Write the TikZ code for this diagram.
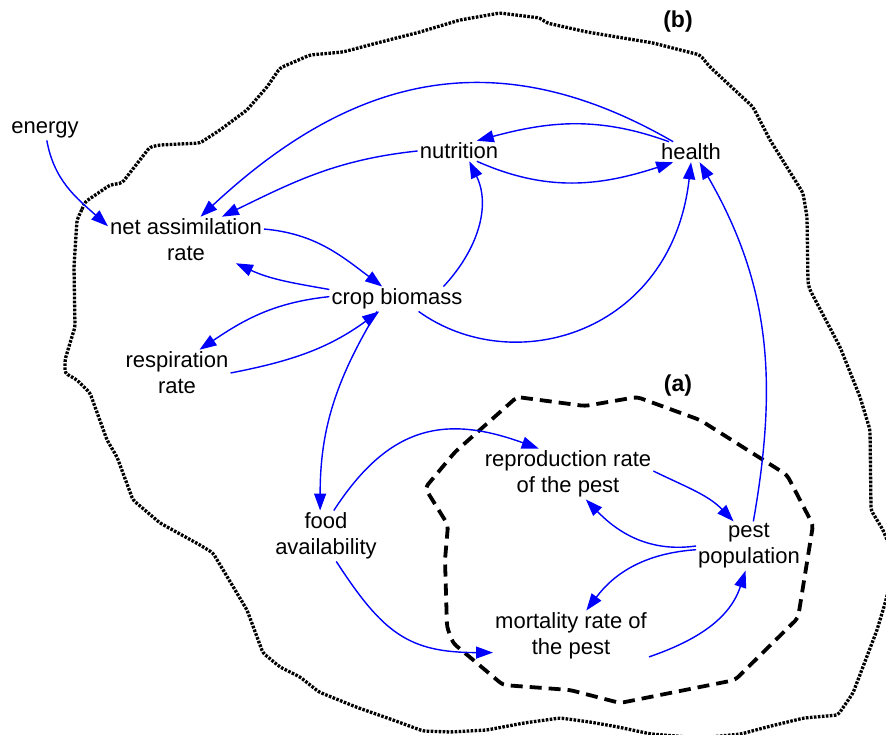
\documentclass[tikz,border=0pt]{standalone}
\usepackage{fontspec}
\setmainfont{Liberation Sans}
\usetikzlibrary{arrows.meta}

\begin{document}
\begin{tikzpicture}[x=1pt, y=1pt, >={Triangle[length=17pt, width=12pt]},
    var/.style={align=center, inner sep=2pt, font=\fontsize{22}{26}\selectfont},
    tag/.style={inner sep=0pt, font=\fontsize{23}{26}\selectfont\bfseries},
    link/.style={->, draw=blue, line width=1.4pt},
    outer/.style={line width=3.3pt, dash pattern=on 2.6pt off 1.4pt, rounded corners=3pt},
    inner/.style={line width=3.8pt, dash pattern=on 12pt off 7pt, rounded corners=4pt}]
    \useasboundingbox (0,0) rectangle (886,734);

    % system boundaries
    \draw[outer] (83,527) -- (77,514) -- (74,467) -- (75,407) -- (70,391) -- (65,374)
        -- (65,361) -- (77,354) -- (90,341) -- (107,294) -- (117,277) -- (133,234)
        -- (160,211) -- (200,189) -- (213,181) -- (247,124) -- (263,81) -- (280,67)
        -- (300,57) -- (319,42) -- (356,27) -- (393,14) -- (423,3) -- (450,2) -- (487,4)
        -- (524,11) -- (560,16) -- (590,12) -- (618,7) -- (651,0) -- (700,-4) -- (741,0)
        -- (767,7) -- (804,16) -- (838,19) -- (853,41) -- (877,104) -- (886,134)
        -- (895,174) -- (883,204) -- (871,224) -- (870,304) -- (860,337) -- (840,387)
        -- (810,444) -- (808,451) -- (807,517) -- (803,541) -- (770,594) -- (753,627)
        -- (710,667) -- (700,679) -- (653,691) -- (587,702) -- (547,711) -- (540,716)
        -- (500,721) -- (460,714) -- (420,702) -- (377,691) -- (343,682) -- (310,679)
        -- (280,666) -- (267,647) -- (247,624) -- (220,604) -- (200,591) -- (160,589)
        -- (150,587) -- (122,551) -- (110,549) -- (85,532) -- cycle;
    \draw[inner] (517,337) -- (585,328) -- (637,337) -- (700,314) -- (787,259)
        -- (813,209) -- (798,116) -- (735,54) -- (620,31) -- (570,44) -- (503,49)
        -- (453,91) -- (447,107) -- (445,174) -- (448,209) -- (425,246) -- (455,282)
        -- cycle;
    \node[tag] (labb) at (678,712) {(b)};
    \node[tag] (laba) at (678,348) {(a)};

    % variables
    \node[var] (energy) at (45,604) {energy};
    \node[var] (nar) at (186,494) {net assimilation\\rate};
    \node[var] (nutr) at (459,583) {nutrition};
    \node[var] (health) at (691,582) {health};
    \node[var] (crop) at (397,435) {crop biomass};
    \node[var] (resp) at (177,361) {respiration\\rate};
    \node[var] (food) at (326,198) {food\\availability};
    \node[var] (repro) at (568,260) {reproduction rate\\of the pest};
    \node[var] (pest) at (749,188) {pest\\population};
    \node[var] (mort) at (571,98) {mortality rate of\\the pest};

    % links
    \draw[link] (energy) to[out=-80, in=138] (nar.170);
    \draw[link] (health.150) to[out=150, in=43, looseness=1.1] (nar.58);
    \draw[link] (nutr.west) to[out=186, in=26] (nar.33);
    \draw[link] (nar.8) to[out=-5, in=143] (crop.140);
    \draw[link] (crop.172) to[out=170, in=-25] (nar.-25);
    \draw[link] (crop.178) to[out=186, in=34] (resp.46);
    \draw[link] (resp.east) to[out=11, in=216] (crop.215);
    \draw[link] (crop.15) to[out=47, in=-64] (nutr.-45);
    \draw[link] (nutr.-30) to[out=-24, in=198] (health.210);
    \draw[link] (health.155) to[out=160, in=15] (nutr.30);
    \draw[link] (crop.-30) .. controls (514,354) and (672,401) .. (health.-90);
    \draw[link] (pest.80) to[out=80, in=-60] (health.-50);
    \draw[link] (crop.212) to[out=239, in=90] (food.103);
    \draw[link] (food.73) to[out=57, in=160, looseness=1.2] (repro.139);
    \draw[link] (food.-68) to[out=-57, in=180, looseness=1.2] (mort.192);
    \draw[link] (repro.2) to[out=-26, in=134] (pest.122);
    \draw[link] (pest.west) to[out=188, in=-46] (repro.-55);
    \draw[link] (pest.184) to[out=184, in=53] (mort.59);
    \draw[link] (mort.-15) to[out=19, in=-108] (pest.-98);
\end{tikzpicture}
\end{document}
